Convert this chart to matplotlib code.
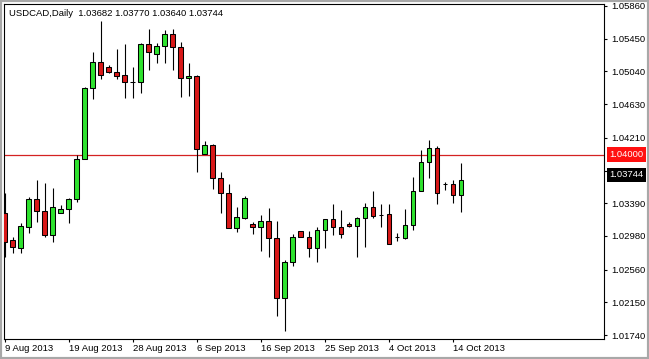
"""
USDCAD daily candlestick chart, MT4 style.
Saves to out.png
"""
import matplotlib
matplotlib.use("Agg")
import matplotlib.pyplot as plt
import matplotlib.patches as patches
import matplotlib.transforms as mtransforms
import numpy as np

# daily bars (Sunday bars included, as MT4 shows them), 9 Aug .. 15 Oct 2013
OPEN = [1.03272, 1.02930, 1.02833, 1.03096, 1.03443, 1.03289, 1.02996, 1.03272,
        1.03314, 1.03439, 1.03940, 1.04829, 1.05155, 1.05102, 1.05034, 1.04992,
        1.04912, 1.04912, 1.05384, 1.05255, 1.05359, 1.05509, 1.05343, 1.04955,
        1.04983, 1.04003, 1.04119, 1.03702, 1.03514, 1.03076, 1.03209, 1.03126,
        1.03096, 1.03168, 1.02951, 1.02200, 1.02650, 1.03039, 1.02963, 1.02833,
        1.03055, 1.03189, 1.03089, 1.03134, 1.03109, 1.03201, 1.03347, 1.03243,
        1.03251, 1.02963, 1.02958, 1.03114, 1.03539, 1.03903, 1.04078, 1.03625,
        1.03627, 1.03487]
HIGH = [1.03518, 1.02971, 1.03139, 1.03472, 1.03681, 1.03640, 1.03577, 1.03368,
        1.03452, 1.03994, 1.04842, 1.05288, 1.05668, 1.05115, 1.05322, 1.05387,
        1.05100, 1.05397, 1.05572, 1.05400, 1.05559, 1.05578, 1.05407, 1.05150,
        1.04996, 1.04169, 1.04129, 1.03779, 1.03631, 1.03339, 1.03481, 1.03155,
        1.03239, 1.03327, 1.03168, 1.02679, 1.03005, 1.03039, 1.03042, 1.03096,
        1.03196, 1.03380, 1.03305, 1.03151, 1.03221, 1.03389, 1.03543, 1.03380,
        1.03380, 1.03014, 1.03318, 1.03719, 1.04057, 1.04182, 1.04107, 1.03660,
        1.03681, 1.03898]
LOW = [1.02717, 1.02771, 1.02771, 1.03014, 1.03159, 1.02971, 1.02908, 1.03272,
       1.03139, 1.03409, 1.03940, 1.04692, 1.04940, 1.05017, 1.04950, 1.04702,
       1.04714, 1.04774, 1.05059, 1.05142, 1.05142, 1.05059, 1.04724, 1.04733,
       1.03785, 1.04003, 1.03573, 1.03274, 1.03076, 1.03034, 1.03193, 1.03005,
       1.02796, 1.02721, 1.01978, 1.01794, 1.02608, 1.02963, 1.02721, 1.02658,
       1.02833, 1.02992, 1.02958, 1.03089, 1.02721, 1.02846, 1.03209, 1.03096,
       1.02880, 1.02921, 1.02938, 1.03055, 1.03539, 1.03702, 1.03377, 1.03556,
       1.03399, 1.03284]
CLOSE = [1.02901, 1.02838, 1.03105, 1.03443, 1.03289, 1.02996, 1.03347, 1.03314,
         1.03439, 1.03940, 1.04829, 1.05155, 1.04996, 1.05030, 1.04987, 1.04905,
         1.04912, 1.05384, 1.05280, 1.05359, 1.05509, 1.05343, 1.04955, 1.04983,
         1.04065, 1.04119, 1.03702, 1.03514, 1.03076, 1.03214, 1.03452, 1.03096,
         1.03168, 1.02951, 1.02200, 1.02650, 1.02963, 1.02963, 1.02833, 1.03055,
         1.03189, 1.03089, 1.03001, 1.03109, 1.03201, 1.03347, 1.03230, 1.03243,
         1.02880, 1.02963, 1.03114, 1.03539, 1.03903, 1.04078, 1.03514, 1.03625,
         1.03487, 1.03678]

DATE_POS = [0, 8, 16, 24, 32, 40, 48, 56]
DATE_LABELS = ["9 Aug 2013", "19 Aug 2013", "28 Aug 2013", "6 Sep 2013",
               "16 Sep 2013", "25 Sep 2013", "4 Oct 2013", "14 Oct 2013"]
PRICE_TICKS = [1.05860, 1.05450, 1.05040, 1.04630, 1.04210, 1.03800,
               1.03390, 1.02980, 1.02560, 1.02150, 1.01740]
LEVEL = 1.04000
LAST = 1.03744
TITLE = "USDCAD,Daily  1.03682 1.03770 1.03640 1.03744"

BULL = "#2EE22E"
BEAR = "#D81818"
FONT = "Liberation Sans"
FS = 6.8

W, H = 649, 359
fig = plt.figure(figsize=(W / 100, H / 100), dpi=100)
fig.patch.set_facecolor("white")
ax = fig.add_axes([4 / W, (H - 339) / H, 600 / W, 335 / H])

o = np.array(OPEN)
c = np.array(CLOSE)
x = np.arange(len(o))
up = c >= o

ax.axhline(LEVEL, color="#D42222", lw=0.9, zorder=1)
ax.vlines(x, LOW, HIGH, color="black", lw=0.8, zorder=2)
ax.bar(x, np.abs(c - o), bottom=np.minimum(o, c), width=0.6,
       color=np.where(up, BULL, BEAR), edgecolor="black", linewidth=0.75, zorder=3)

ax.set_xlim(-0.1, 74.875)
ax.set_ylim(1.01690, 1.05885)

for s in ax.spines.values():
    s.set_color("black")
    s.set_linewidth(0.8)

ax.set_xticks(DATE_POS)
ax.set_xticklabels(DATE_LABELS, ha="left", fontsize=FS, family=FONT)
ax.tick_params(axis="x", direction="out", length=2.5, width=0.8, pad=1)

ax.yaxis.tick_right()
ax.set_yticks(PRICE_TICKS)
ax.set_yticklabels([f"{v:.5f}" for v in PRICE_TICKS], fontsize=FS, family=FONT)
ax.tick_params(axis="y", direction="out", length=2.2, width=0.8, pad=3)

ax.text(5 / 600, 1 - 9 / 335, TITLE, transform=ax.transAxes, ha="left",
        va="center", fontsize=FS, family=FONT, color="black")

# price labels on the right axis (the last-price box covers the 1.03800 tick label, as in MT4)
tr = mtransforms.blended_transform_factory(ax.transAxes, ax.transData)
for val, bg in ((LEVEL, "#FF1010"), (LAST, "black")):
    ax.text(1 + 5.5 / 600, val, f"{val:.5f}", transform=tr, ha="left", va="center",
            fontsize=FS, family=FONT, color="white", clip_on=False, zorder=10,
            bbox=dict(boxstyle="square,pad=0.28", fc=bg, ec="none"))

fig.patches.append(patches.Rectangle((0, 0), 1, 1, transform=fig.transFigure,
                                     fill=False, ec="#A8A8A8", lw=3))

fig.savefig("out.png", dpi=100)
plt.close(fig)
